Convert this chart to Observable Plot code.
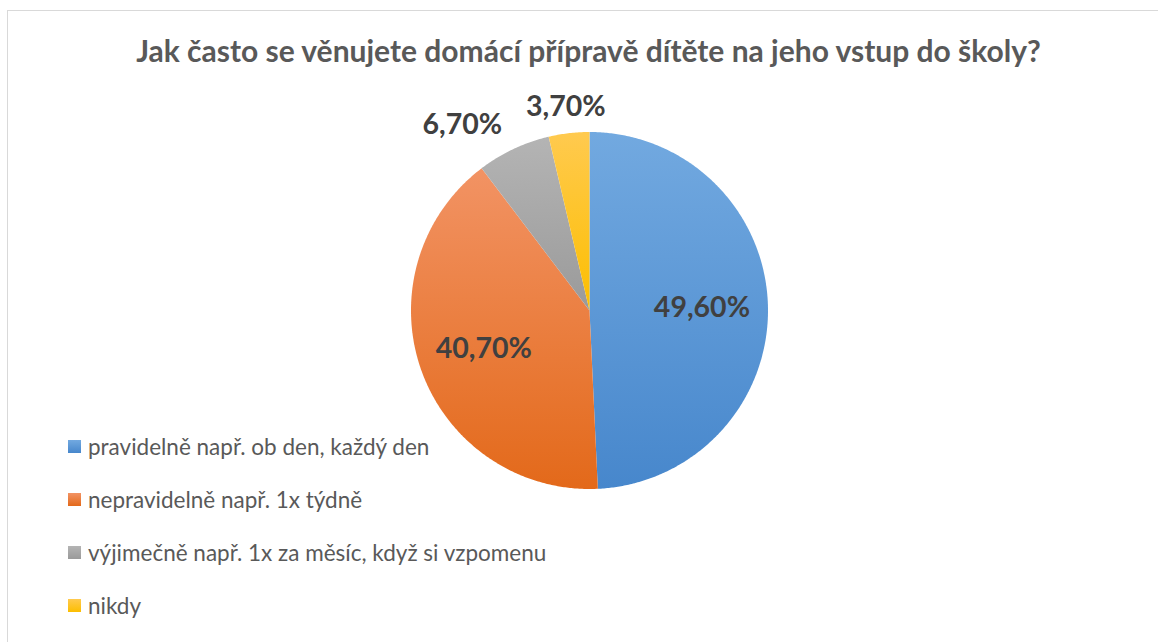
<!DOCTYPE html>
<html>
<head>
<meta charset="utf-8">
<script src="https://cdn.jsdelivr.net/npm/d3@7"></script>
<script src="https://cdn.jsdelivr.net/npm/@observablehq/plot@0.6"></script>
<style>
  html, body { margin: 0; padding: 0; background: #fff; overflow: hidden; }
  #wrap { position: relative; width: 1158px; height: 642px; overflow: hidden; font-family: Lato, "Open Sans", sans-serif; }
  #frame { position: absolute; left: 7px; top: 10px; width: 1200px; height: 700px; border: 1px solid #d9d9d9; box-sizing: border-box; }
  #title { position: absolute; left: 0; width: 1177px; top: 32px; line-height: 36px; text-align: center; font-weight: bold; font-size: 30px; color: #595959; white-space: nowrap; }
  #chart { position: absolute; left: 348.5px; top: 70px; }
  #legend { position: absolute; left: 68px; top: 420px; font-size: 22.5px; color: #595959; }
  .row { display: flex; align-items: center; height: 53px; white-space: nowrap; }
  .sw { width: 13px; height: 13px; margin-right: 7px; }
</style>
</head>
<body>
<div id="wrap">
  <div id="frame"></div>
  <div id="title">Jak často se věnujete domácí přípravě dítěte na jeho vstup do školy?</div>
  <div id="chart"></div>
  <div id="legend"></div>
</div>
<script>
const categories = [
  "pravidelně např. ob den, každý den",
  "nepravidelně např. 1x týdně",
  "výjimečně např. 1x za měsíc, když si vzpomenu",
  "nikdy"
];
const values = [49.6, 40.7, 6.7, 3.7];
const valueLabels = ["49,60%", "40,70%", "6,70%", "3,70%"];
const colorsTop = ["#72a9e0", "#f29364", "#b4b4b4", "#ffca4f"];
const colorsBottom = ["#4787cc", "#e3691a", "#9a9a9a", "#fcbe00"];

const gradIds = categories.map((_, i) => `grad${i}`);

// pie geometry derived from data
const total = d3.sum(values);
const pie = d3.pie().sort(null).value(d => d)(values);
const polygonPts = [];
pie.forEach((p, i) => {
  const cat = categories[i];
  polygonPts.push({cat, X: 0, Y: 0});
  const n = Math.max(2, Math.ceil((p.endAngle - p.startAngle) / (Math.PI / 360)));
  for (let k = 0; k <= n; k++) {
    const a = p.startAngle + (p.endAngle - p.startAngle) * k / n;
    polygonPts.push({cat, X: Math.sin(a), Y: Math.cos(a)});
  }
});
const labelData = pie.map((p, i) => {
  const a = (p.startAngle + p.endAngle) / 2;
  const inside = values[i] / total > 0.15;
  const r = inside ? 0.63 : 1.15;
  const sx = Math.sin(a);
  return {
    label: valueLabels[i],
    X: r * sx,
    Y: r * Math.cos(a),
    inside,
    anchor: inside ? "middle" : (sx < -0.3 ? "end" : "middle")
  };
});

const half = 240 / 178.5;
const plot = Plot.plot({
  width: 480,
  height: 480,
  margin: 0,
  x: {domain: [-half, half], axis: null},
  y: {domain: [-half, half], axis: null},
  color: {domain: categories, range: gradIds.map(id => `url(#${id})`)},
  marks: [
    Plot.line(polygonPts, {x: "X", y: "Y", z: "cat", fill: "cat", stroke: "none", curve: "linear",
      style: {filter: "drop-shadow(-1px 2px 2.5px rgba(0,0,0,0.35))"}}),
    Plot.text(labelData.filter(d => d.anchor === "middle"), {x: "X", y: "Y", text: "label", textAnchor: "middle",
      fontSize: 28.5, fontWeight: "bold", fill: "#404040"}),
    Plot.text(labelData.filter(d => d.anchor === "end"), {x: "X", y: "Y", text: "label", textAnchor: "end",
      fontSize: 28.5, fontWeight: "bold", fill: "#404040"})
  ]
});

// gradient definitions
const ns = "http://www.w3.org/2000/svg";
const defs = document.createElementNS(ns, "defs");
gradIds.forEach((id, i) => {
  const g = document.createElementNS(ns, "linearGradient");
  g.setAttribute("id", id);
  g.setAttribute("x1", "0"); g.setAttribute("y1", "0");
  g.setAttribute("x2", "0"); g.setAttribute("y2", "1");
  [[0, colorsTop[i]], [1, colorsBottom[i]]].forEach(([o, c]) => {
    const s = document.createElementNS(ns, "stop");
    s.setAttribute("offset", o);
    s.setAttribute("stop-color", c);
    g.appendChild(s);
  });
  defs.appendChild(g);
});
plot.insertBefore(defs, plot.firstChild);
plot.style.fontFamily = "Lato, 'Open Sans', sans-serif";
plot.style.overflow = "visible";
document.getElementById("chart").appendChild(plot);

// legend
const legend = document.getElementById("legend");
categories.forEach((c, i) => {
  const row = document.createElement("div");
  row.className = "row";
  const sw = document.createElement("div");
  sw.className = "sw";
  sw.style.background = `linear-gradient(${colorsTop[i]}, ${colorsBottom[i]})`;
  const t = document.createElement("span");
  t.textContent = c;
  row.appendChild(sw); row.appendChild(t);
  legend.appendChild(row);
});
</script>
</body>
</html>
